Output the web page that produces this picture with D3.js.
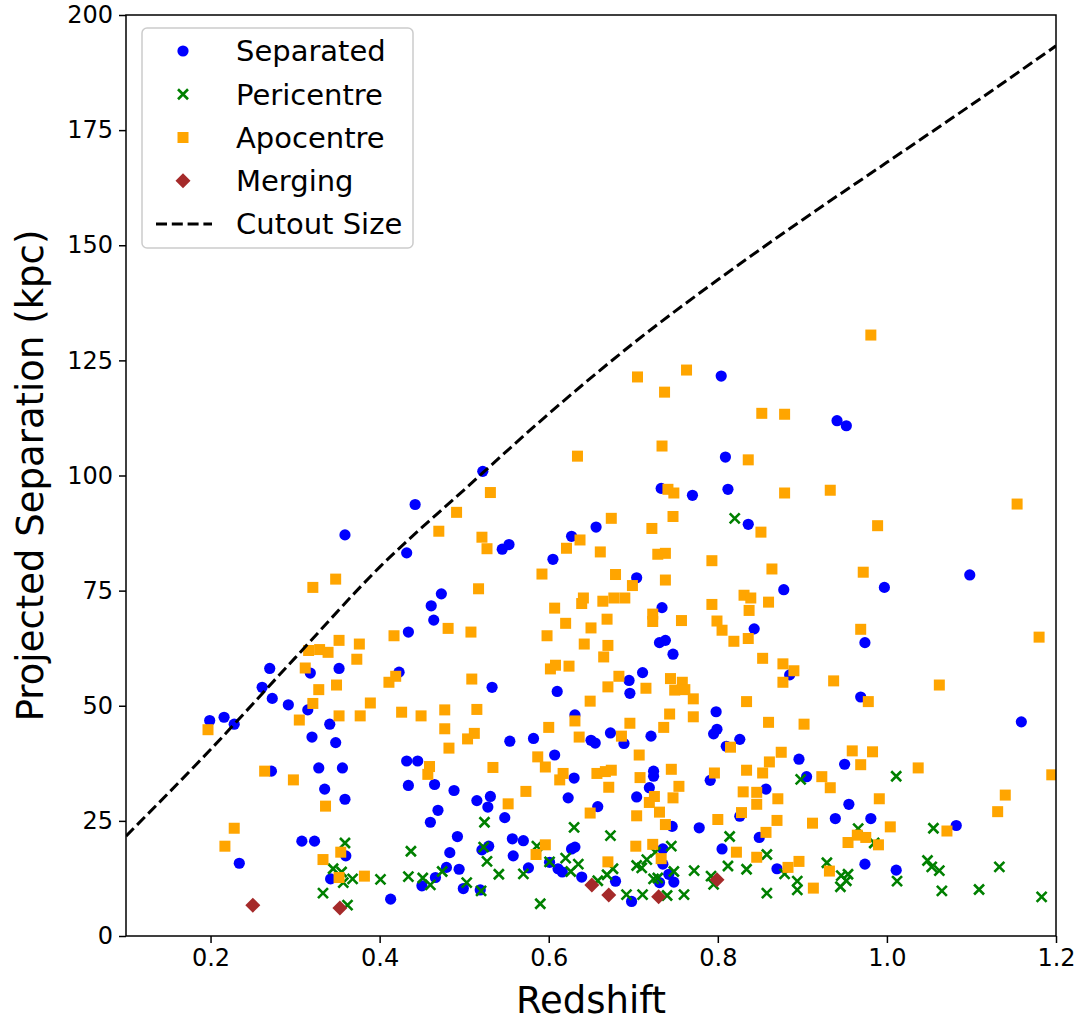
<!DOCTYPE html>
<html>
<head>
<meta charset="utf-8">
<script src="https://cdn.jsdelivr.net/npm/d3@7"></script>
<style>
  html, body { margin: 0; padding: 0; background: #fff; }
  svg { display: block; font-family: "DejaVu Sans", sans-serif; }
</style>
</head>
<body>
<svg id="chart" width="1085" height="1023"></svg>
<script>
// Galaxy pairs: [redshift, projected separation in kpc]
const separated = [
  [0.199,46.8],[0.216,47.5],[0.228,46.0],[0.234,15.8],[0.261,54.0],[0.270,58.1],[0.272,35.8],[0.273,51.6],
  [0.292,50.2],[0.308,20.6],[0.315,49.1],[0.318,57.1],[0.320,43.2],[0.323,20.6],[0.328,36.5],[0.335,31.9],
  [0.341,46.0],[0.342,12.4],[0.348,42.0],[0.352,58.1],[0.356,36.5],[0.359,87.1],[0.359,29.7],[0.360,17.4],
  [0.413,8.0],[0.423,57.3],[0.432,83.2],[0.432,38.0],[0.434,66.0],[0.434,32.7],[0.442,93.7],[0.445,38.0],
  [0.450,10.9],[0.460,24.7],[0.461,71.7],[0.464,68.6],[0.465,32.9],[0.466,12.7],[0.469,27.3],[0.473,74.3],
  [0.479,14.9],[0.483,18.1],[0.488,31.6],[0.492,21.6],[0.494,14.5],[0.499,10.3],[0.515,29.4],[0.519,10.0],
  [0.521,18.7],[0.522,100.9],[0.528,28.0],[0.529,19.5],[0.531,30.3],[0.533,54.0],[0.545,84.0],[0.548,25.7],
  [0.553,85.0],[0.554,42.3],[0.557,21.1],[0.558,17.4],[0.570,20.7],[0.576,14.8],[0.582,42.9],[0.601,16.0],
  [0.605,81.8],[0.607,39.3],[0.610,53.1],[0.611,14.6],[0.616,13.9],[0.623,30.0],[0.627,18.9],[0.627,86.8],
  [0.630,34.3],[0.631,48.0],[0.631,19.3],[0.639,12.8],[0.650,42.5],[0.656,88.8],[0.655,41.9],[0.658,28.1],
  [0.673,44.1],[0.679,11.9],[0.689,41.8],[0.695,55.5],[0.696,52.7],[0.698,7.5],[0.704,30.2],[0.704,77.8],
  [0.711,57.2],[0.719,32.2],[0.721,43.4],[0.724,35.8],[0.724,34.7],[0.731,11.6],[0.731,63.7],[0.733,97.2],
  [0.734,71.3],[0.735,15.6],[0.735,18.9],[0.738,64.2],[0.742,13.4],[0.747,61.2],[0.748,11.7],[0.746,23.8],
  [0.770,95.7],[0.778,23.5],[0.791,33.8],[0.795,43.9],[0.798,48.7],[0.799,44.9],[0.804,121.6],[0.805,18.9],
  [0.809,104.0],[0.810,41.2],[0.812,97.0],[0.826,42.7],[0.826,26.0],[0.836,89.4],[0.843,66.7],[0.849,21.4],
  [0.857,31.9],[0.870,14.6],[0.878,75.2],[0.885,56.7],[0.896,38.4],[0.905,34.6],[0.939,25.5],[0.941,111.9],
  [0.950,37.3],[0.952,110.8],[0.955,28.6],[0.969,51.9],[0.974,63.7],[0.974,15.6],[0.981,25.5],[0.997,75.7],
  [1.011,14.3],[1.082,24.0],[1.098,78.4],[1.159,46.5]
];

const pericentre = [
  [0.359,20.2],[0.345,14.6],[0.355,13.9],[0.357,11.6],[0.368,12.4],[0.333,9.3],[0.362,6.7],
  [0.401,12.3],[0.437,18.4],[0.434,12.9],[0.451,12.6],[0.460,11.1],[0.474,14.0],[0.503,11.6],[0.520,9.8],
  [0.524,24.7],[0.523,19.3],[0.527,16.2],[0.541,13.4],[0.570,13.5],[0.586,19.5],[0.590,7.0],[0.601,16.1],
  [0.620,16.9],[0.630,23.6],[0.626,14.0],[0.635,15.6],[0.673,21.8],[0.658,12.0],[0.669,13.3],[0.676,14.6],
  [0.692,9.0],[0.711,9.0],[0.704,15.3],[0.710,14.8],[0.716,16.6],[0.724,12.4],[0.729,12.6],[0.726,18.2],
  [0.745,19.5],[0.748,14.0],[0.740,8.8],[0.760,9.0],[0.772,14.2],[0.792,13.0],[0.795,11.2],[0.814,21.6],
  [0.812,15.2],[0.834,14.5],[0.858,17.7],[0.858,9.3],[0.879,13.5],[0.894,11.9],[0.894,10.0],[0.898,34.0],
  [0.820,90.7],[1.011,34.7],[0.966,23.3],[0.985,20.2],[0.929,15.9],[0.946,13.1],[0.954,13.4],[0.952,12.0],
  [0.945,10.7],[1.012,11.9],[1.055,23.4],[1.048,16.4],[1.053,15.0],[1.062,14.2],[1.065,9.8],[1.109,10.1],
  [1.133,15.0],[1.183,8.5]
];

const apocentre = [
  [0.197,44.8],[0.217,19.5],[0.228,23.4],[0.264,35.8],[0.298,33.9],[0.305,46.9],[0.312,58.2],[0.316,62.0],
  [0.321,75.7],[0.321,50.5],[0.328,53.5],[0.329,62.2],[0.333,16.6],[0.336,28.2],[0.339,61.6],[0.348,77.5],
  [0.349,54.5],[0.352,64.2],[0.352,47.8],[0.352,12.7],[0.354,18.2],[0.373,60.1],[0.376,63.4],[0.377,47.8],
  [0.382,13.0],[0.389,50.6],[0.411,55.1],[0.417,65.2],[0.419,56.4],[0.426,48.6],[0.449,47.8],[0.457,35.1],
  [0.459,36.8],[0.470,87.9],[0.477,49.1],[0.477,45.0],[0.481,66.8],[0.482,40.8],[0.491,92.0],[0.504,42.8],
  [0.508,66.0],[0.509,55.8],[0.512,44.0],[0.515,49.2],[0.517,75.4],[0.521,86.6],[0.527,84.1],[0.531,96.3],
  [0.534,36.6],[0.552,28.7],[0.573,31.4],[0.587,38.9],[0.585,17.7],[0.592,78.6],[0.596,36.7],[0.596,19.8],
  [0.598,65.2],[0.600,45.3],[0.602,58.0],[0.607,71.2],[0.608,58.8],[0.613,33.9],[0.617,35.3],[0.620,67.9],
  [0.621,84.2],[0.624,58.6],[0.631,46.7],[0.634,104.2],[0.636,43.2],[0.637,86.0],[0.639,72.2],[0.641,73.4],
  [0.642,63.4],[0.649,51.0],[0.649,26.7],[0.650,66.9],[0.657,35.3],[0.661,83.4],[0.664,72.7],[0.665,60.6],
  [0.667,35.7],[0.669,68.8],[0.670,63.1],[0.670,54.1],[0.670,16.1],[0.671,32.3],[0.674,36.0],[0.674,90.7],
  [0.677,73.4],[0.679,78.5],[0.683,56.4],[0.686,43.4],[0.690,73.4],[0.696,46.2],[0.699,76.1],[0.703,19.5],
  [0.704,26.1],[0.705,121.4],[0.707,39.3],[0.708,34.4],[0.715,53.8],[0.719,29.0],[0.722,88.5],[0.723,69.9],
  [0.723,68.3],[0.723,19.9],[0.725,30.3],[0.729,82.9],[0.731,26.9],[0.733,16.8],[0.734,106.4],[0.737,118.1],
  [0.736,45.3],[0.738,83.1],[0.738,77.3],[0.738,24.2],[0.741,97.0],[0.743,48.2],[0.744,55.9],[0.745,36.2],
  [0.747,91.1],[0.747,30.0],[0.748,96.2],[0.749,53.4],[0.754,32.5],[0.757,68.5],[0.758,55.1],[0.761,53.5],
  [0.763,122.9],[0.771,51.5],[0.771,47.6],[0.793,81.5],[0.793,72.0],[0.796,35.4],[0.799,68.4],[0.800,25.3],
  [0.805,66.4],[0.815,41.0],[0.819,64.0],[0.822,18.2],[0.828,26.8],[0.830,31.3],[0.831,74.0],[0.834,36.0],
  [0.834,50.9],[0.836,64.6],[0.836,103.4],[0.837,70.7],[0.839,73.4],[0.846,28.6],[0.846,31.2],[0.846,17.1],
  [0.851,87.7],[0.852,113.5],[0.853,60.3],[0.853,35.4],[0.857,22.5],[0.860,46.4],[0.860,72.5],[0.861,37.8],
  [0.864,79.7],[0.870,25.1],[0.871,29.8],[0.875,39.9],[0.877,59.1],[0.877,55.1],[0.879,96.2],[0.879,113.3],
  [0.883,14.9],[0.890,57.6],[0.896,16.2],[0.902,46.0],[0.912,24.5],[0.913,10.4],[0.923,34.6],[0.933,32.2],
  [0.933,96.8],[0.932,14.1],[0.937,55.4],[0.954,20.3],[0.959,40.2],[0.965,21.9],[0.969,37.2],[0.969,66.6],
  [0.972,79.0],[0.975,21.4],[0.978,50.9],[0.981,130.5],[0.983,40.0],[0.989,89.1],[0.990,19.8],[0.991,29.8],
  [1.004,23.7],[1.037,36.5],[1.062,54.5],[1.071,22.8],[1.131,27.0],[1.140,30.6],[1.154,93.8],[1.180,64.9],
  [1.195,35.0]
];

const merging = [
  [0.250,6.7],[0.353,6.1],[0.651,11.1],[0.671,8.9],[0.730,8.5],[0.799,12.2]
];

// Half-width of the image cutout, in kpc, at each redshift
const cutoutZ    = [0.10, 0.20, 0.30, 0.40, 0.50, 0.60, 0.70, 0.80, 0.90, 1.00, 1.10, 1.20];
const cutoutSize = [21.7, 40.5, 60.4, 80.1, 96.9, 113.4, 128.7, 142.5, 155.5, 168.0, 180.5, 193.3];

const xTicks = [0.2, 0.4, 0.6, 0.8, 1.0, 1.2];
const yTicks = [0, 25, 50, 75, 100, 125, 150, 175, 200];

const legendLabels = ["Separated", "Pericentre", "Apocentre", "Merging", "Cutout Size"];

const svg = d3.select("#chart");
const plot = { left: 126, top: 15, right: 1056, bottom: 936 };

const x = d3.scaleLinear().domain([0.1, 1.2]).range([plot.left, plot.right]);
const y = d3.scaleLinear().domain([0, 200]).range([plot.bottom, plot.top]);

const colors = {
  separated: "#0000ff",
  pericentre: "#008000",
  apocentre: "#ffa500",
  merging: "#a52a2a"
};

// clip marks to the axes box
svg.append("clipPath").attr("id", "plotClip")
  .append("rect")
  .attr("x", plot.left).attr("y", plot.top)
  .attr("width", plot.right - plot.left).attr("height", plot.bottom - plot.top);

const marks = svg.append("g").attr("clip-path", "url(#plotClip)");

// marker drawers
const circleR = 5.6;
const squareS = 11;
const crossH = 5;

function drawCircles(g, data, color) {
  g.selectAll(null).data(data).enter().append("circle")
    .attr("cx", d => x(d[0])).attr("cy", d => y(d[1]))
    .attr("r", circleR).attr("fill", color);
}
function drawCrosses(g, data, color) {
  g.selectAll(null).data(data).enter().append("path")
    .attr("transform", d => `translate(${x(d[0])},${y(d[1])})`)
    .attr("d", `M${-crossH},${-crossH}L${crossH},${crossH}M${-crossH},${crossH}L${crossH},${-crossH}`)
    .attr("stroke", color).attr("stroke-width", 2.6).attr("fill", "none");
}
function drawSquares(g, data, color) {
  g.selectAll(null).data(data).enter().append("rect")
    .attr("x", d => x(d[0]) - squareS / 2).attr("y", d => y(d[1]) - squareS / 2)
    .attr("width", squareS).attr("height", squareS).attr("fill", color);
}
function drawDiamonds(g, data, color) {
  const h = 7.5;
  g.selectAll(null).data(data).enter().append("path")
    .attr("transform", d => `translate(${x(d[0])},${y(d[1])})`)
    .attr("d", `M0,${-h}L${h},0L0,${h}L${-h},0Z`)
    .attr("fill", color);
}

drawCircles(marks.append("g"), separated, colors.separated);
drawCrosses(marks.append("g"), pericentre, colors.pericentre);
drawSquares(marks.append("g"), apocentre, colors.apocentre);
drawDiamonds(marks.append("g"), merging, colors.merging);

// cutout size curve
const cutoutLine = d3.line()
  .x((d, i) => x(cutoutZ[i]))
  .y(d => y(d))
  .curve(d3.curveMonotoneX);

marks.append("path")
  .datum(cutoutSize)
  .attr("d", cutoutLine)
  .attr("fill", "none")
  .attr("stroke", "#000")
  .attr("stroke-width", 3)
  .attr("stroke-dasharray", "11,4.8");

// axes
const tickFont = 24;
const xAxis = svg.append("g")
  .attr("transform", `translate(0,${plot.bottom})`)
  .call(d3.axisBottom(x).tickValues(xTicks).tickFormat(d3.format(".1f")).tickSize(7).tickPadding(6));
const yAxis = svg.append("g")
  .attr("transform", `translate(${plot.left},0)`)
  .call(d3.axisLeft(y).tickValues(yTicks).tickFormat(d3.format("d")).tickSize(7).tickPadding(6));

[xAxis, yAxis].forEach(a => {
  a.select(".domain").remove();
  a.selectAll(".tick line").attr("stroke", "#000").attr("stroke-width", 1.5);
  a.selectAll(".tick text").attr("fill", "#000")
    .style("font-size", tickFont + "px").style("font-family", "DejaVu Sans, sans-serif");
});

// axes frame
svg.append("rect")
  .attr("x", plot.left).attr("y", plot.top)
  .attr("width", plot.right - plot.left).attr("height", plot.bottom - plot.top)
  .attr("fill", "none").attr("stroke", "#000").attr("stroke-width", 1.5);

// axis titles
svg.append("text")
  .attr("x", (plot.left + plot.right) / 2).attr("y", 1013)
  .attr("text-anchor", "middle")
  .style("font-size", "37px")
  .text("Redshift");

svg.append("text")
  .attr("transform", `translate(43,${(plot.top + plot.bottom) / 2}) rotate(-90)`)
  .attr("text-anchor", "middle")
  .style("font-size", "37px")
  .text("Projected Separation (kpc)");

// legend
const legend = svg.append("g");
legend.append("rect")
  .attr("x", 142).attr("y", 28).attr("width", 271).attr("height", 220)
  .attr("rx", 5).attr("ry", 5)
  .attr("fill", "#fff").attr("fill-opacity", 0.8)
  .attr("stroke", "#cccccc").attr("stroke-width", 1.5);

const rowY = d3.scalePoint().domain(legendLabels).range([51, 224]);
const markerX = 183;

drawCircles(legend.append("g"), [[x.invert(markerX), y.invert(rowY("Separated"))]], colors.separated);
drawCrosses(legend.append("g"), [[x.invert(markerX), y.invert(rowY("Pericentre"))]], colors.pericentre);
drawSquares(legend.append("g"), [[x.invert(markerX), y.invert(rowY("Apocentre"))]], colors.apocentre);
drawDiamonds(legend.append("g"), [[x.invert(markerX), y.invert(rowY("Merging"))]], colors.merging);
legend.append("line")
  .attr("x1", 156).attr("x2", 212)
  .attr("y1", rowY("Cutout Size")).attr("y2", rowY("Cutout Size"))
  .attr("stroke", "#000").attr("stroke-width", 3).attr("stroke-dasharray", "11,4.8");

legend.selectAll("text.lbl").data(legendLabels).enter().append("text")
  .attr("class", "lbl")
  .attr("x", 236).attr("y", d => rowY(d))
  .attr("dy", "0.36em")
  .style("font-size", "29px")
  .text(d => d);
</script>
</body>
</html>
